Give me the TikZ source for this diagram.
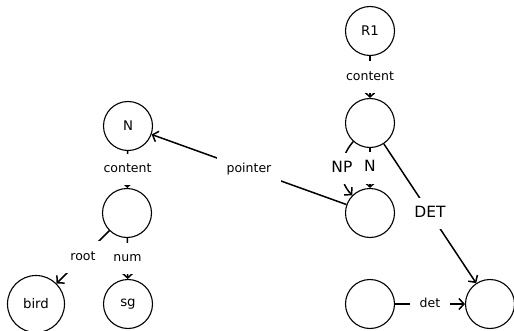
\documentclass[tikz,border=0pt]{standalone}
\usepackage{fontspec}
\setmainfont{DejaVu Sans}
\usetikzlibrary{arrows.meta}

\tikzset{
  fs/.style={node font=\fontsize{12.5}{15}\selectfont},
  fsnode/.style={node font=\fontsize{13.3}{16}\selectfont},
  fsbig/.style={node font=\fontsize{15.5}{18}\selectfont},
  fnode/.style={circle, draw, line width=1.1pt, minimum size=49pt, inner sep=0pt, fsnode},
  widenode/.style={fnode, minimum size=57pt},
  rel/.style={line width=1.5pt, -{Straight Barb[length=5pt,width=11pt,line width=1.5pt]}},
  lab/.style={fill=white, inner sep=9.5pt, text height=0.75em, text depth=0.25em, fs},
  labbig/.style={lab, fsbig, inner sep=8pt}
}

\begin{document}
\begin{tikzpicture}[x=1pt, y=1pt]
  \useasboundingbox (0,0) rectangle (514,330);

  % right structure
  \node[fnode] (r1) at (370,299) {R1};
  \node[fnode] (rm) at (370,207) {};
  \node[fnode] (rnp) at (370,117) {};
  \node[fnode] (rb1) at (370,26) {};
  \node[fnode] (rb2) at (490,26) {};

  % left structure
  \node[fnode] (ln) at (128,204) {N};
  \node[fnode] (lm) at (127,117) {};
  \node[widenode] (bird) at (36,26) {bird};
  \node[fnode] (sg) at (128,26) {sg};

  % feature arcs
  \draw[rel] (r1) -- node[lab] {content} (rm);
  \draw[rel] (rm) to[out=228, in=135] node[labbig] {NP} (rnp);
  \draw[rel] (rm) -- node[labbig] {N} (rnp);
  \draw[rel] (rm) -- node[labbig] {DET} (rb2);
  \draw[rel] (rb1) -- node[lab] {det} (rb2);
  \draw[rel] (rnp) -- node[lab] {pointer} (ln);

  \draw[rel] (ln) -- node[lab] {content} (lm);
  \draw[rel] (lm) -- node[lab] {root} (bird);
  \draw[rel] (lm) -- node[lab] {num} (sg);
\end{tikzpicture}
\end{document}
